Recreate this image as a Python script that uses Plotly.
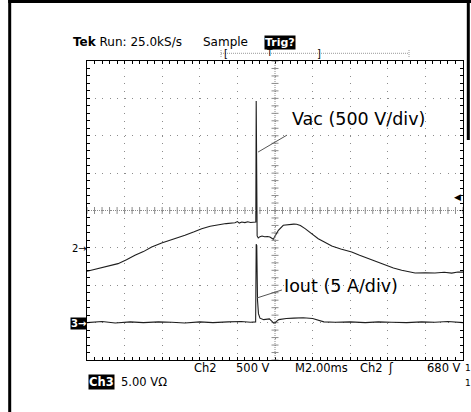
import plotly.graph_objects as go

# ---- data ----
# Ch2: Vac in volts, time in ms (M 2.00 ms/div, 10 divisions)
vac_t = [-10.0, -9.6, -9.2, -8.8, -8.35, -7.9, -7.45, -7.0, -6.56, -6.03, -5.4, -4.79,
         -4.3, -3.90, -3.45, -3.02, -2.6, -2.13, -2.0, -1.9, -1.77, -1.6, -1.45, -1.3,
         -1.15, -1.02, -1.00, -0.95, -0.89, -0.8, -0.69, -0.55, -0.4, -0.27, -0.09, 0.18,
         0.44, 0.7, 1.0, 1.15, 1.35, 1.60, 1.95, 2.30, 2.65, 3.02, 3.5, 4.08, 4.5, 4.96,
         5.4, 5.85, 6.3, 6.74, 7.1, 7.45, 8.0, 8.51, 9.0, 9.4, 9.73, 10.0]
vac_v = [-313, -290, -262, -240, -211, -160, -99, -50, 12, 66, 115, 168,
         215, 257, 290, 310, 325, 337, 352, 332, 346, 338, 350, 340,
         346, 346, 1964, 160, 132, 150, 159, 148, 152, 146, 115, 235,
         302, 312, 318, 316, 300, 257, 190, 123, 75, 25, -15, -55, -100, -144,
         -190, -233, -270, -299, -322, -336, -333, -336, -326, -338, -322, -325]

# Ch3: Iout in amps
iout_t = [-10, -9.2, -8.5, -7.7, -7.0, -6.2, -5.5, -4.8, -4.0, -3.3, -2.5, -1.8, -1.3,
          -1.03, -1.00, -0.97, -0.93, -0.88, -0.8, -0.6, -0.3, -0.05, 0.2, 0.6, 1.0,
          1.5, 2.0, 2.3, 2.6, 3.2, 4.0, 4.8, 5.5, 6.2, 7.0, 7.8, 8.5, 9.2, 10]
iout_a = [0.0, 0.15, -0.05, 0.1, 0.0, 0.1, 0.05, -0.05, 0.1, 0.0, 0.1, 0.15, 0.05,
          0.1, 10.5, 10.3, 3.0, 1.2, 0.6, 0.4, 0.5, -0.1, 0.4, 0.55, 0.6,
          0.65, 0.55, 0.3, 0.1, 0.05, 0.1, 0.0, 0.1, 0.05, 0.0, 0.1, 0.05, 0.15, 0.0]

# scope settings
t_per_div = 2.0      # ms
vac_per_div = 500.0  # V
vac_gnd_div = -1.0   # Ch2 ground marker, divisions from centre
i_per_div = 5.0      # A
i_gnd_div = -3.0     # Ch3 ground marker
n_hdiv, n_vdiv = 10, 8

W, H = 471, 412
L, R, T, B = 87, 8, 61, 52
PW, PH = W - L - R, H - T - B

def px(xp):
    return (xp - L) / PW

def py(yp):
    return (H - B - yp) / PH

x_rng = [-n_hdiv / 2 * t_per_div, n_hdiv / 2 * t_per_div]
v_rng = [(-n_vdiv / 2 - vac_gnd_div) * vac_per_div, (n_vdiv / 2 - vac_gnd_div) * vac_per_div]
i_rng = [(-n_vdiv / 2 - i_gnd_div) * i_per_div, (n_vdiv / 2 - i_gnd_div) * i_per_div]
v_center = -vac_gnd_div * vac_per_div

GRID = "#8c8c8c"
TRACE = "#1e1e1e"
FONT = "DejaVu Sans"

fig = go.Figure()

# centre-line cross ticks (graticule)
cx = [x_rng[0] + k * t_per_div / 5 for k in range(n_hdiv * 5 + 1)]
cy = [v_rng[0] + k * vac_per_div / 5 for k in range(n_vdiv * 5 + 1)]
fig.add_trace(go.Scatter(x=cx, y=[v_center] * len(cx), mode="markers",
                         marker=dict(symbol="line-ns", size=5, line=dict(width=1, color=GRID)),
                         hoverinfo="skip", showlegend=False))
fig.add_trace(go.Scatter(x=[0] * len(cy), y=cy, mode="markers",
                         marker=dict(symbol="line-ew", size=5, line=dict(width=1, color=GRID)),
                         hoverinfo="skip", showlegend=False))

fig.add_trace(go.Scatter(x=vac_t, y=vac_v, mode="lines", line=dict(color=TRACE, width=1.1),
                         name="Vac", showlegend=False))
fig.add_trace(go.Scatter(x=iout_t, y=iout_a, mode="lines", line=dict(color=TRACE, width=1.1),
                         name="Iout", yaxis="y2", showlegend=False))

axis_common = dict(showgrid=True, gridcolor=GRID, gridwidth=1, zeroline=False,
                   showticklabels=False, ticks="inside", ticklen=3, tickcolor="black",
                   showline=True, linecolor="black", linewidth=1, mirror="ticks",
                   fixedrange=True)

fig.update_layout(
    width=W, height=H,
    margin=dict(l=L, r=R, t=T, b=B, pad=0),
    paper_bgcolor="white", plot_bgcolor="white",
    xaxis=dict(range=x_rng, dtick=t_per_div, tick0=0, griddash="1px,6.48px",
               minor=dict(dtick=t_per_div / 5, ticks="inside", ticklen=3, tickcolor="black",
                          showgrid=False),
               **axis_common),
    yaxis=dict(range=v_rng, dtick=vac_per_div, tick0=0, griddash="1px,6.52px",
               minor=dict(dtick=vac_per_div / 5, ticks="inside", ticklen=3, tickcolor="black",
                          showgrid=False),
               **axis_common),
    yaxis2=dict(range=i_rng, overlaying="y", visible=False, fixedrange=True),
)

shapes = [
    # centre lines
    dict(type="line", xref="x", yref="y", x0=0, x1=0, y0=v_rng[0], y1=v_rng[1],
         line=dict(color=GRID, width=1, dash="1px,1px")),
    dict(type="line", xref="x", yref="y", x0=x_rng[0], x1=x_rng[1], y0=v_center, y1=v_center,
         line=dict(color=GRID, width=1, dash="1px,1px")),
    # leader lines
    dict(type="line", xref="x", yref="y", x0=-0.9, y0=1282, x1=0.64, y1=1509,
         line=dict(color="#555555", width=1)),
    dict(type="line", xref="x", yref="y2", x0=-0.96, y0=3.3, x1=0.37, y1=4.37,
         line=dict(color="#555555", width=1)),
    # outer screenshot frame: top, left, and upper part of right edge
    dict(type="line", xref="paper", yref="paper", x0=px(8.2), x1=px(471), y0=py(1.5), y1=py(1.5),
         line=dict(color="black", width=3)),
    dict(type="line", xref="paper", yref="paper", x0=px(9.7), x1=px(9.7), y0=py(0), y1=py(412),
         line=dict(color="black", width=3)),
    dict(type="line", xref="paper", yref="paper", x0=px(468.3), x1=px(468.3), y0=py(0), y1=py(140),
         line=dict(color="black", width=3)),
    # trigger position bar
    dict(type="line", xref="paper", yref="paper", x0=px(221), x1=px(409), y0=py(53.3), y1=py(53.3),
         line=dict(color="#9a9a9a", width=1, dash="1px,1px")),
    dict(type="line", xref="paper", yref="paper", x0=px(221), x1=px(221), y0=py(50), y1=py(57),
         line=dict(color="#9a9a9a", width=1, dash="1px,1px")),
    dict(type="line", xref="paper", yref="paper", x0=px(409), x1=px(409), y0=py(50), y1=py(57),
         line=dict(color="#9a9a9a", width=1, dash="1px,1px")),
]
fig.update_layout(shapes=shapes)

ann = []

def txt(text, xp, yp, size=11.5, color="black", bg=None, anchor="center", bold=False):
    a = dict(text=("<b>%s</b>" % text) if bold else text, xref="paper", yref="paper",
             x=px(xp), y=py(yp), xanchor=anchor, yanchor="middle", showarrow=False,
             font=dict(family=FONT, size=size, color=color), borderpad=0)
    if bg:
        a["bgcolor"] = bg
    ann.append(a)

txt("<b>Tek</b> Run: 25.0kS/s", 127, 42, size=12)
txt("Sample", 225, 42, size=12)
txt("Trig?", 280, 42, size=11, color="white", bg="black", bold=True)
txt("[", 226, 53, size=10)
txt("T", 269, 53, size=9)
txt("]", 319, 53, size=10)
txt("Ch2", 205.5, 368)
txt("500 V", 252.5, 368)
txt("M2.00ms", 321.5, 368)
txt("Ch2", 371, 368)
txt("ʃ", 390.5, 368)
txt("680 V", 444, 368)
txt("1", 467.5, 368, size=9)
txt("Ch3", 101.5, 382, color="white", bg="black", bold=True)
txt("5.00 VΩ", 143.5, 382)
txt("1", 467.5, 383, size=9)
txt("2→", 79, 248.3, size=10)
txt("3→", 78.5, 323.7, size=10, color="white", bg="black", bold=True)
txt("◀", 457, 196.7, size=9)

# trace labels (data coordinates)
ann.append(dict(text="Vac (500 V/div)", xref="x", yref="y", x=0.80, y=1723,
                xanchor="left", yanchor="middle", showarrow=False,
                font=dict(family=FONT, size=17.5, color="black")))
ann.append(dict(text="Iout (5 A/div)", xref="x", yref="y2", x=0.37, y=4.91,
                xanchor="left", yanchor="middle", showarrow=False,
                font=dict(family=FONT, size=17.5, color="black")))
fig.update_layout(annotations=ann)

fig.write_html("out.html", config={"displayModeBar": False},
               post_script="document.body.style.margin='0px';")
